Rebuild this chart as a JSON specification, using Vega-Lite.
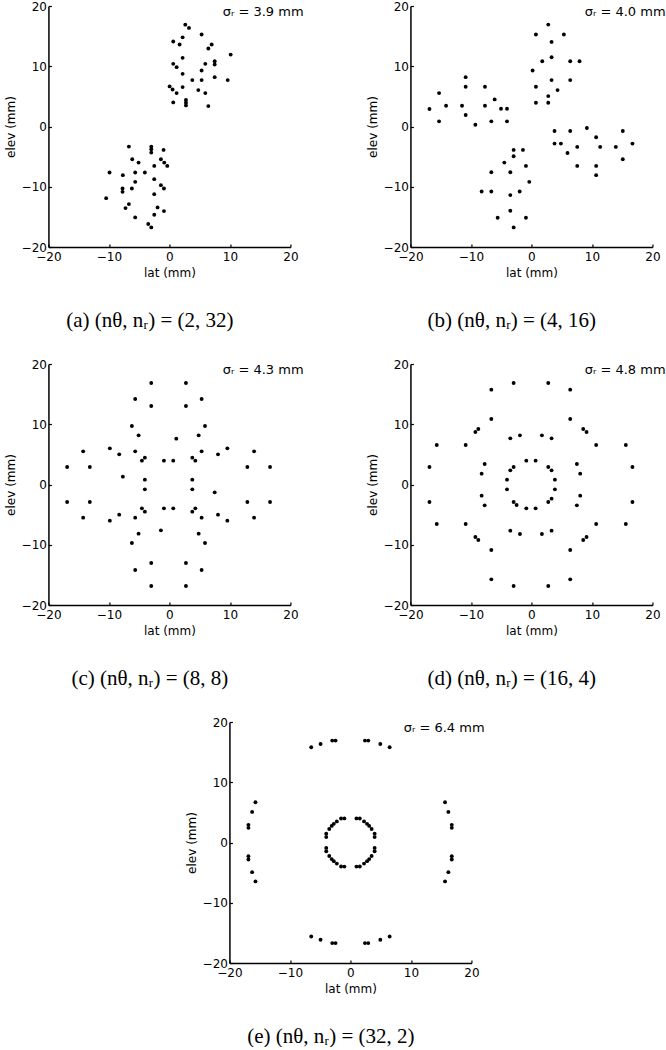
{
 "$schema": "https://vega.github.io/schema/vega-lite/v6.json",
 "background": "white",
 "padding": {"left": 4, "top": 0, "right": 0, "bottom": 0},
 "config": {
  "view": {"stroke": null},
  "font": "DejaVu Sans",
  "axis": {"grid": false, "domainColor": "black", "domainWidth": 1.5, "tickColor": "black", "tickWidth": 1.2, "tickSize": -3, "labelFont": "DejaVu Sans", "labelFontSize": 12, "labelColor": "black", "labelFlush": false, "labelOverlap": false, "titleFont": "DejaVu Sans", "titleFontSize": 12, "titleFontWeight": "normal", "titleColor": "black"},
  "axisX": {"labelPadding": 7, "titlePadding": 5},
  "axisY": {"labelPadding": 5, "titlePadding": 4},
  "title": {"font": "Liberation Serif", "fontSize": 21, "fontWeight": "normal", "color": "black", "orient": "bottom", "anchor": "middle", "frame": "bounds", "offset": 32, "dx": -4}
 },
 "datasets": {
  "a": [
   {"lat":2.62,"elev":16.9},{"lat":3.23,"elev":16.36},{"lat":5.32,"elev":15.26},{"lat":0.63,"elev":14.1},{"lat":2.18,"elev":14.8},{"lat":1.68,"elev":13.6},{"lat":6.98,"elev":13.6},{"lat":6.43,"elev":12.94},{"lat":10.12,"elev":11.94},{"lat":2.18,"elev":11.4},{"lat":7.48,"elev":10.84},{"lat":7.48,"elev":10.29},{"lat":5.93,"elev":10.4},{"lat":0.63,"elev":10.4},{"lat":1.19,"elev":9.85},{"lat":5.32,"elev":9.3},{"lat":2.18,"elev":8.74},{"lat":7.48,"elev":8.19},{"lat":3.78,"elev":7.7},{"lat":5.32,"elev":7.7},{"lat":9.63,"elev":7.7},{"lat":0.03,"elev":6.65},{"lat":2.18,"elev":6.54},{"lat":0.52,"elev":6.15},{"lat":1.19,"elev":5.54},{"lat":4.77,"elev":6.04},{"lat":5.93,"elev":5.54},{"lat":2.73,"elev":4.39},{"lat":2.73,"elev":3.94},{"lat":2.73,"elev":3.5},{"lat":0.63,"elev":4.0},{"lat":6.43,"elev":3.39},
   {"lat":-6.7,"elev":-3.34},{"lat":-3.0,"elev":-3.34},{"lat":-3.0,"elev":-3.78},{"lat":-3.0,"elev":-4.33},{"lat":-0.97,"elev":-3.89},{"lat":-6.15,"elev":-5.43},{"lat":-5.1,"elev":-5.99},{"lat":-1.41,"elev":-5.43},{"lat":-0.86,"elev":-5.99},{"lat":-0.36,"elev":-6.54},{"lat":-2.51,"elev":-6.54},{"lat":-9.9,"elev":-7.64},{"lat":-5.66,"elev":-7.64},{"lat":-4.06,"elev":-7.64},{"lat":-7.7,"elev":-8.08},{"lat":-2.51,"elev":-8.74},{"lat":-5.66,"elev":-9.19},{"lat":-1.41,"elev":-9.74},{"lat":-0.91,"elev":-10.29},{"lat":-6.21,"elev":-10.29},{"lat":-7.75,"elev":-10.29},{"lat":-7.75,"elev":-10.84},{"lat":-10.46,"elev":-11.89},{"lat":-2.51,"elev":-11.23},{"lat":-6.7,"elev":-12.88},{"lat":-7.26,"elev":-13.54},{"lat":-1.96,"elev":-13.43},{"lat":-0.91,"elev":-14.04},{"lat":-2.51,"elev":-14.65},{"lat":-5.66,"elev":-15.09},{"lat":-3.5,"elev":-16.19},{"lat":-3.0,"elev":-16.75}
  ],
  "b": [
   {"lat":2.78,"elev":16.91},{"lat":0.74,"elev":15.26},{"lat":5.36,"elev":15.26},{"lat":3.33,"elev":14.04},{"lat":3.33,"elev":11.5},{"lat":1.79,"elev":10.84},{"lat":6.41,"elev":10.84},{"lat":7.95,"elev":10.84},{"lat":0.19,"elev":9.3},{"lat":3.33,"elev":7.7},{"lat":6.41,"elev":7.7},{"lat":0.74,"elev":6.59},{"lat":4.32,"elev":6.04},{"lat":2.78,"elev":5.05},{"lat":2.78,"elev":3.94},{"lat":0.74,"elev":3.94},
   {"lat":-16.86,"elev":2.9},{"lat":-15.27,"elev":5.54},{"lat":-15.27,"elev":0.86},{"lat":-14.11,"elev":3.45},{"lat":-10.87,"elev":8.19},{"lat":-10.87,"elev":6.59},{"lat":-11.47,"elev":3.45},{"lat":-10.87,"elev":1.9},{"lat":-9.27,"elev":0.3},{"lat":-7.68,"elev":6.59},{"lat":-7.68,"elev":3.45},{"lat":-6.63,"elev":0.86},{"lat":-6.08,"elev":4.5},{"lat":-5.03,"elev":2.95},{"lat":-4.04,"elev":2.95},{"lat":-4.04,"elev":0.86},
   {"lat":-1.4,"elev":-3.89},{"lat":-2.94,"elev":-3.89},{"lat":-2.94,"elev":-4.94},{"lat":-4.48,"elev":-5.99},{"lat":-0.91,"elev":-6.54},{"lat":-6.63,"elev":-7.59},{"lat":-3.49,"elev":-7.59},{"lat":-0.36,"elev":-9.19},{"lat":-8.23,"elev":-10.79},{"lat":-6.63,"elev":-10.79},{"lat":-1.95,"elev":-10.79},{"lat":-3.49,"elev":-11.39},{"lat":-3.49,"elev":-13.99},{"lat":-5.58,"elev":-15.14},{"lat":-0.91,"elev":-15.14},{"lat":-2.94,"elev":-16.75},
   {"lat":3.82,"elev":-0.74},{"lat":6.41,"elev":-0.74},{"lat":9.16,"elev":-0.25},{"lat":15.1,"elev":-0.74},{"lat":3.82,"elev":-2.84},{"lat":4.87,"elev":-2.84},{"lat":7.57,"elev":-3.39},{"lat":11.36,"elev":-3.39},{"lat":13.95,"elev":-3.39},{"lat":16.7,"elev":-2.84},{"lat":5.96,"elev":-4.39},{"lat":10.7,"elev":-1.79},{"lat":7.57,"elev":-6.54},{"lat":10.7,"elev":-6.54},{"lat":10.7,"elev":-8.08},{"lat":15.1,"elev":-5.43}
  ],
  "c": [
   {"lat":-3.01,"elev":16.85},{"lat":2.73,"elev":16.85},{"lat":-5.66,"elev":14.19},{"lat":5.32,"elev":14.19},{"lat":-3.01,"elev":13.03},{"lat":2.73,"elev":13.03},{"lat":-6.21,"elev":9.71},{"lat":5.88,"elev":9.71},{"lat":-5.1,"elev":8.16},{"lat":4.83,"elev":8.16},{"lat":1.13,"elev":7.61},{"lat":-9.85,"elev":6.0},{"lat":9.57,"elev":6.0},{"lat":-14.26,"elev":5.5},{"lat":13.99,"elev":5.5},{"lat":-8.3,"elev":5.01},{"lat":8.03,"elev":5.01},{"lat":-5.66,"elev":5.5},{"lat":5.32,"elev":5.5},{"lat":-4.06,"elev":4.45},{"lat":3.78,"elev":4.45},{"lat":-4.55,"elev":3.96},{"lat":4.28,"elev":3.96},{"lat":-0.91,"elev":3.96},{"lat":0.63,"elev":3.96},{"lat":-16.91,"elev":2.9},{"lat":-13.16,"elev":2.9},{"lat":12.88,"elev":2.9},{"lat":16.63,"elev":2.9},{"lat":-7.7,"elev":1.3},{"lat":-4.06,"elev":0.8},{"lat":3.78,"elev":0.8},
   {"lat":-4.06,"elev":-0.8},{"lat":3.78,"elev":-0.8},{"lat":7.48,"elev":-1.3},{"lat":-16.91,"elev":-2.9},{"lat":-13.16,"elev":-2.9},{"lat":12.88,"elev":-2.9},{"lat":16.63,"elev":-2.9},{"lat":-4.55,"elev":-3.96},{"lat":4.28,"elev":-3.96},{"lat":-0.91,"elev":-3.96},{"lat":0.63,"elev":-3.96},{"lat":-4.06,"elev":-4.51},{"lat":3.78,"elev":-4.51},{"lat":-8.3,"elev":-5.01},{"lat":8.03,"elev":-5.01},{"lat":-5.66,"elev":-5.5},{"lat":5.32,"elev":-5.5},{"lat":-14.26,"elev":-5.5},{"lat":13.99,"elev":-5.5},{"lat":-9.85,"elev":-6.0},{"lat":9.57,"elev":-6.0},{"lat":-1.41,"elev":-7.61},{"lat":-5.1,"elev":-8.16},{"lat":4.83,"elev":-8.16},{"lat":-6.21,"elev":-9.71},{"lat":5.88,"elev":-9.71},{"lat":-3.01,"elev":-13.03},{"lat":2.73,"elev":-13.03},{"lat":-5.66,"elev":-14.19},{"lat":5.32,"elev":-14.19},{"lat":-3.01,"elev":-16.85},{"lat":2.73,"elev":-16.85}
  ],
  "d": [
   {"lat":-2.94,"elev":16.85},{"lat":2.78,"elev":16.85},{"lat":-6.63,"elev":15.74},{"lat":6.41,"elev":15.74},{"lat":-15.65,"elev":6.56},{"lat":15.6,"elev":6.56},{"lat":-16.86,"elev":2.9},{"lat":16.7,"elev":2.9},{"lat":-16.86,"elev":-2.9},{"lat":16.7,"elev":-2.9},{"lat":-15.65,"elev":-6.56},{"lat":15.6,"elev":-6.56},{"lat":-6.63,"elev":-15.74},{"lat":6.41,"elev":-15.74},{"lat":-2.94,"elev":-16.85},{"lat":2.78,"elev":-16.85},
   {"lat":-6.63,"elev":10.87},{"lat":6.41,"elev":10.87},{"lat":-9.27,"elev":8.71},{"lat":-8.78,"elev":9.21},{"lat":8.56,"elev":9.21},{"lat":9.11,"elev":8.71},{"lat":-10.87,"elev":6.56},{"lat":10.7,"elev":6.56},{"lat":-10.87,"elev":-6.56},{"lat":10.7,"elev":-6.56},{"lat":-9.27,"elev":-8.71},{"lat":-8.78,"elev":-9.21},{"lat":8.56,"elev":-9.21},{"lat":9.11,"elev":-8.71},{"lat":-6.63,"elev":-10.87},{"lat":6.41,"elev":-10.87},
   {"lat":-3.49,"elev":7.66},{"lat":-1.9,"elev":8.16},{"lat":1.73,"elev":8.16},{"lat":3.33,"elev":7.66},{"lat":-7.73,"elev":3.4},{"lat":-8.23,"elev":1.8},{"lat":7.51,"elev":3.4},{"lat":8.06,"elev":1.8},{"lat":-8.23,"elev":-1.85},{"lat":-7.73,"elev":-3.46},{"lat":8.06,"elev":-1.85},{"lat":7.51,"elev":-3.46},{"lat":-3.49,"elev":-7.66},{"lat":-1.9,"elev":-8.22},{"lat":1.73,"elev":-8.22},{"lat":3.33,"elev":-7.66},
   {"lat":-0.85,"elev":3.96},{"lat":0.69,"elev":3.96},{"lat":-3.49,"elev":2.35},{"lat":-2.94,"elev":2.9},{"lat":2.78,"elev":2.9},{"lat":3.33,"elev":2.35},{"lat":-4.04,"elev":0.8},{"lat":-4.04,"elev":-0.8},{"lat":3.88,"elev":0.8},{"lat":3.88,"elev":-0.8},{"lat":-2.94,"elev":-2.9},{"lat":-2.45,"elev":-3.4},{"lat":2.78,"elev":-2.9},{"lat":3.33,"elev":-2.35},{"lat":-0.85,"elev":-3.96},{"lat":0.69,"elev":-3.96}
  ],
  "e": [
   {"lat":-6.48,"elev":15.8},{"lat":-4.94,"elev":16.35},{"lat":-3.01,"elev":16.91},{"lat":-2.46,"elev":16.91},{"lat":2.4,"elev":16.91},{"lat":2.95,"elev":16.91},{"lat":4.94,"elev":16.35},{"lat":6.48,"elev":15.8},
   {"lat":-6.48,"elev":-15.6},{"lat":-4.94,"elev":-16.15},{"lat":-3.01,"elev":-16.7},{"lat":-2.46,"elev":-16.7},{"lat":2.4,"elev":-16.7},{"lat":2.95,"elev":-16.7},{"lat":4.94,"elev":-16.15},{"lat":6.48,"elev":-15.6},
   {"lat":-15.7,"elev":6.69},{"lat":-16.25,"elev":5.08},{"lat":-16.86,"elev":2.93},{"lat":-16.86,"elev":2.43},{"lat":-16.86,"elev":-2.27},{"lat":-16.86,"elev":-2.82},{"lat":-16.25,"elev":-4.92},{"lat":-15.7,"elev":-6.46},
   {"lat":15.64,"elev":6.69},{"lat":16.19,"elev":5.08},{"lat":16.75,"elev":2.93},{"lat":16.75,"elev":2.43},{"lat":16.75,"elev":-2.27},{"lat":16.75,"elev":-2.82},{"lat":16.19,"elev":-4.92},{"lat":15.64,"elev":-6.46},
   {"lat":1.0,"elev":4.0},{"lat":1.55,"elev":3.98},{"lat":2.25,"elev":3.5},{"lat":2.75,"elev":3.1},{"lat":3.1,"elev":2.75},{"lat":3.5,"elev":2.25},{"lat":4.0,"elev":1.45},{"lat":4.0,"elev":0.9},
   {"lat":-1.0,"elev":4.0},{"lat":-1.55,"elev":3.98},{"lat":-2.25,"elev":3.5},{"lat":-2.75,"elev":3.1},{"lat":-3.1,"elev":2.75},{"lat":-3.5,"elev":2.25},{"lat":-4.0,"elev":1.45},{"lat":-4.0,"elev":0.9},
   {"lat":1.0,"elev":-4.0},{"lat":1.55,"elev":-3.98},{"lat":2.25,"elev":-3.5},{"lat":2.75,"elev":-3.1},{"lat":3.1,"elev":-2.75},{"lat":3.5,"elev":-2.25},{"lat":4.0,"elev":-1.45},{"lat":4.0,"elev":-0.9},
   {"lat":-1.0,"elev":-4.0},{"lat":-1.55,"elev":-3.98},{"lat":-2.25,"elev":-3.5},{"lat":-2.75,"elev":-3.1},{"lat":-3.1,"elev":-2.75},{"lat":-3.5,"elev":-2.25},{"lat":-4.0,"elev":-1.45},{"lat":-4.0,"elev":-0.9}
  ]
 },
 "spacing": 27,
 "center": true,
 "vconcat": [
  {"hconcat": [
   {"title": "(a)  (nθ, nᵣ) = (2, 32)", "width": 242, "height": 241, "layer": [
    {"data": {"name": "a"}, "mark": {"type": "point", "filled": true, "size": 15, "color": "black", "opacity": 1},
     "encoding": {"x": {"field": "lat", "type": "quantitative", "scale": {"domain": [-20, 20], "nice": false, "zero": false}, "axis": {"title": "lat (mm)", "values": [-20, -10, 0, 10, 20]}},
                  "y": {"field": "elev", "type": "quantitative", "scale": {"domain": [-20, 20], "nice": false, "zero": false}, "axis": {"title": "elev (mm)", "values": [-20, -10, 0, 10, 20]}}}},
    {"data": {"values": [{"note": "σᵣ = 3.9 mm"}]}, "mark": {"type": "text", "align": "left", "baseline": "alphabetic", "font": "DejaVu Sans", "fontSize": 13, "color": "black"},
     "encoding": {"x": {"datum": 8.8, "type": "quantitative"}, "y": {"datum": 18.3, "type": "quantitative"}, "text": {"field": "note"}}}
   ]},
   {"title": "(b)  (nθ, nᵣ) = (4, 16)", "width": 242, "height": 241, "layer": [
    {"data": {"name": "b"}, "mark": {"type": "point", "filled": true, "size": 15, "color": "black", "opacity": 1},
     "encoding": {"x": {"field": "lat", "type": "quantitative", "scale": {"domain": [-20, 20], "nice": false, "zero": false}, "axis": {"title": "lat (mm)", "values": [-20, -10, 0, 10, 20]}},
                  "y": {"field": "elev", "type": "quantitative", "scale": {"domain": [-20, 20], "nice": false, "zero": false}, "axis": {"title": "elev (mm)", "values": [-20, -10, 0, 10, 20]}}}},
    {"data": {"values": [{"note": "σᵣ = 4.0 mm"}]}, "mark": {"type": "text", "align": "left", "baseline": "alphabetic", "font": "DejaVu Sans", "fontSize": 13, "color": "black"},
     "encoding": {"x": {"datum": 8.8, "type": "quantitative"}, "y": {"datum": 18.3, "type": "quantitative"}, "text": {"field": "note"}}}
   ]}
  ], "spacing": 61},
  {"hconcat": [
   {"title": "(c)  (nθ, nᵣ) = (8, 8)", "width": 242, "height": 241, "layer": [
    {"data": {"name": "c"}, "mark": {"type": "point", "filled": true, "size": 15, "color": "black", "opacity": 1},
     "encoding": {"x": {"field": "lat", "type": "quantitative", "scale": {"domain": [-20, 20], "nice": false, "zero": false}, "axis": {"title": "lat (mm)", "values": [-20, -10, 0, 10, 20]}},
                  "y": {"field": "elev", "type": "quantitative", "scale": {"domain": [-20, 20], "nice": false, "zero": false}, "axis": {"title": "elev (mm)", "values": [-20, -10, 0, 10, 20]}}}},
    {"data": {"values": [{"note": "σᵣ = 4.3 mm"}]}, "mark": {"type": "text", "align": "left", "baseline": "alphabetic", "font": "DejaVu Sans", "fontSize": 13, "color": "black"},
     "encoding": {"x": {"datum": 8.8, "type": "quantitative"}, "y": {"datum": 18.3, "type": "quantitative"}, "text": {"field": "note"}}}
   ]},
   {"title": "(d)  (nθ, nᵣ) = (16, 4)", "width": 242, "height": 241, "layer": [
    {"data": {"name": "d"}, "mark": {"type": "point", "filled": true, "size": 15, "color": "black", "opacity": 1},
     "encoding": {"x": {"field": "lat", "type": "quantitative", "scale": {"domain": [-20, 20], "nice": false, "zero": false}, "axis": {"title": "lat (mm)", "values": [-20, -10, 0, 10, 20]}},
                  "y": {"field": "elev", "type": "quantitative", "scale": {"domain": [-20, 20], "nice": false, "zero": false}, "axis": {"title": "elev (mm)", "values": [-20, -10, 0, 10, 20]}}}},
    {"data": {"values": [{"note": "σᵣ = 4.8 mm"}]}, "mark": {"type": "text", "align": "left", "baseline": "alphabetic", "font": "DejaVu Sans", "fontSize": 13, "color": "black"},
     "encoding": {"x": {"datum": 8.8, "type": "quantitative"}, "y": {"datum": 18.3, "type": "quantitative"}, "text": {"field": "note"}}}
   ]}
  ], "spacing": 61},
  {"title": "(e)  (nθ, nᵣ) = (32, 2)", "width": 242, "height": 241, "layer": [
   {"data": {"name": "e"}, "mark": {"type": "point", "filled": true, "size": 15, "color": "black", "opacity": 1},
    "encoding": {"x": {"field": "lat", "type": "quantitative", "scale": {"domain": [-20, 20], "nice": false, "zero": false}, "axis": {"title": "lat (mm)", "values": [-20, -10, 0, 10, 20]}},
                 "y": {"field": "elev", "type": "quantitative", "scale": {"domain": [-20, 20], "nice": false, "zero": false}, "axis": {"title": "elev (mm)", "values": [-20, -10, 0, 10, 20]}}}},
   {"data": {"values": [{"note": "σᵣ = 6.4 mm"}]}, "mark": {"type": "text", "align": "left", "baseline": "alphabetic", "font": "DejaVu Sans", "fontSize": 13, "color": "black"},
    "encoding": {"x": {"datum": 8.8, "type": "quantitative"}, "y": {"datum": 18.3, "type": "quantitative"}, "text": {"field": "note"}}}
  ]}
 ]
}
